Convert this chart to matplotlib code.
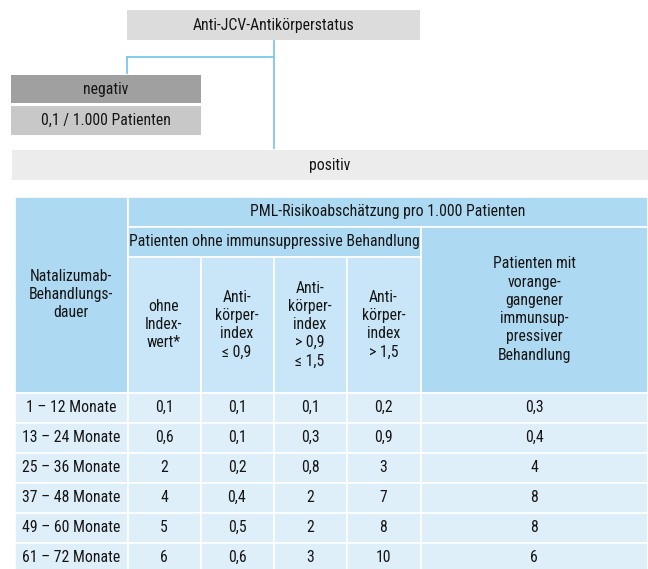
import matplotlib
matplotlib.use('Agg')
import matplotlib.pyplot as plt
from matplotlib.patches import Rectangle

# Data
status_title = 'Anti-JCV-Antikörperstatus'
neg_label = 'negativ'
neg_value = '0,1 / 1.000 Patienten'
pos_label = 'positiv'

table_title = 'PML-Risikoabschätzung pro 1.000 Patienten'
group_label = 'Patienten ohne immunsuppressive Behandlung'
row_header = 'Natalizumab-\nBehandlungs-\ndauer'
sub_headers = ['ohne\nIndex-\nwert*',
               'Anti-\nkörper-\nindex\n≤ 0,9',
               'Anti-\nkörper-\nindex\n> 0,9\n≤ 1,5',
               'Anti-\nkörper-\nindex\n> 1,5']
last_header = 'Patienten mit\nvorange-\ngangener\nimmunsup-\npressiver\nBehandlung'

durations = ['1 – 12 Monate', '13 – 24 Monate', '25 – 36 Monate',
             '37 – 48 Monate', '49 – 60 Monate', '61 – 72 Monate']
ohne_index = ['0,1', '0,6', '2', '4', '5', '6']
index_le_09 = ['0,1', '0,1', '0,2', '0,4', '0,5', '0,6']
index_09_15 = ['0,1', '0,3', '0,8', '2', '2', '3']
index_gt_15 = ['0,2', '0,9', '3', '7', '8', '10']
vorbehandelt = ['0,3', '0,4', '4', '8', '8', '6']

plt.rcParams['font.family'] = ['Roboto Condensed', 'DejaVu Sans']

W, H = 648, 569
fig = plt.figure(figsize=(W / 100, H / 100), dpi=100)
ax = fig.add_axes([0, 0, 1, 1])
ax.set_xlim(0, W)
ax.set_ylim(H, 0)
ax.axis('off')

txt = '#151515'
fs = 11.3
blue_line = '#7cc8ec'
hdr = '#aed9f2'
sub = '#c8e6f7'
cell = '#dfeffa'


def box(x0, y0, x1, y1, color, text=None, lw=1.2, **kw):
    ax.add_patch(Rectangle((x0, y0), x1 - x0, y1 - y0, facecolor=color,
                           edgecolor='white', linewidth=lw))
    if text is not None:
        ax.text((x0 + x1) / 2, (y0 + y1) / 2, text, ha='center', va='center',
                color=txt, fontsize=fs, linespacing=1.27, **kw)


# Tree part
box(127, 10, 420, 40, '#dcdcdc', status_title, lw=0)
ax.plot([274, 274], [41, 148], color=blue_line, lw=1.3)
ax.plot([127, 274], [57, 57], color=blue_line, lw=1.3)
ax.plot([127, 127], [57, 73], color=blue_line, lw=1.3)
box(11, 75, 201, 103, '#a0a0a0', neg_label, lw=0)
box(11, 106, 201, 135, '#c8c8c8', neg_value, lw=0)
box(12, 150, 648, 180, '#ececec', pos_label, lw=0)

# Table
xs = [15, 127.5, 200.5, 273.5, 346.5, 420.5, 648]
y_top, y_r1, y_r2, y_r3 = 197, 226.5, 256.5, 392.5
row_h = 30

box(xs[0], y_top, xs[1], y_r3, hdr, row_header)
box(xs[1], y_top, xs[6], y_r1, hdr, table_title)
box(xs[1], y_r1, xs[5], y_r2, hdr, group_label)
box(xs[5], y_r1, xs[6], y_r3, hdr, last_header)
for j, label in enumerate(sub_headers):
    box(xs[j + 1], y_r2, xs[j + 2], y_r3, sub, label)

columns = [durations, ohne_index, index_le_09, index_09_15, index_gt_15, vorbehandelt]
for i in range(len(durations)):
    y0 = y_r3 + i * row_h
    for j, col in enumerate(columns):
        box(xs[j], y0, xs[j + 1], y0 + row_h, cell, col[i])

fig.savefig('out.png', dpi=100)
